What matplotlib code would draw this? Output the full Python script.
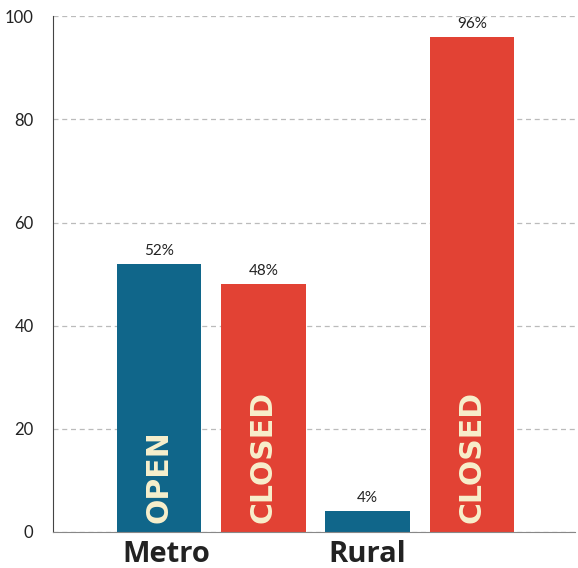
import matplotlib.pyplot as plt

groups = ["Metro", "Rural"]
labels = ["OPEN", "CLOSED", "OPEN", "CLOSED"]
values = [52, 48, 4, 96]
colors = ["#10668a", "#e24234", "#10668a", "#e24234"]

plt.rcParams['font.family'] = ['Lato', 'DejaVu Sans']

fig = plt.figure(figsize=(5.78, 5.68), dpi=100)
ax = fig.add_axes([0.0917, 0.0634, 0.903, 0.908])

x = list(range(len(values)))
bars = ax.bar(x, values, width=0.81, color=colors, zorder=2)

for xi, v, lab in zip(x, values, labels):
    ax.text(xi, v + 1.2, f"{v}%", ha='center', va='bottom', fontsize=11, color='#222222')
    if v > 20:
        ax.text(xi, 1.8, lab, rotation=90, ha='center', va='bottom', fontsize=21.5,
                fontweight='bold', color='#f8f0cc', family=['DejaVu Sans'])

ax.set_xlim(-1.02, 3.99)
ax.set_ylim(0, 100)
ax.set_yticks([0, 20, 40, 60, 80, 100])
ax.set_xticks([0.07, 2])
ax.set_xticklabels(groups, fontsize=21, fontweight='bold', family=['Open Sans', 'DejaVu Sans'])
ax.tick_params(axis='x', length=0, pad=6, colors='#222222')
ax.tick_params(axis='y', length=0, labelsize=12, pad=14, colors='#222222')
ax.yaxis.grid(True, linestyle=(0, (4, 3)), color='#bbbbbb', linewidth=0.9, zorder=0)

for s in ['top', 'right']:
    ax.spines[s].set_visible(False)
ax.spines['left'].set_color('#444444')
ax.spines['bottom'].set_color('#888888')

fig.savefig("out.png", dpi=100)
